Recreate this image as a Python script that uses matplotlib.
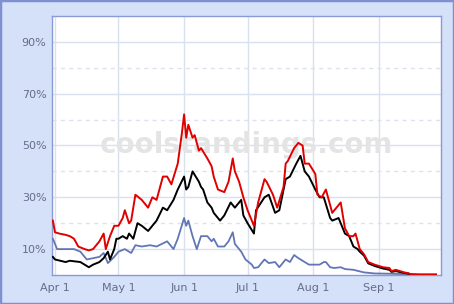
import numpy as np
import matplotlib.pyplot as plt
import matplotlib.dates as mdates
from matplotlib.ticker import FixedLocator, FuncFormatter
from matplotlib.patches import Rectangle

start = np.datetime64('2008-04-01')

# day offsets from Apr 1, values in percent
red_days = [-1, 0, 2, 5, 7, 9, 11, 14, 16, 18, 21, 23, 24, 26, 28, 30, 32, 33, 35, 36,
            38, 41, 44, 46, 48, 51, 53, 55, 58, 60, 61, 62, 63, 65, 66, 68, 69, 72, 74, 75,
            77, 80, 82, 84, 85, 87, 89, 91, 93, 94, 96, 99, 100, 103, 105, 108, 109, 110, 113, 115,
            117, 118, 120, 123, 124, 126, 128, 129, 131, 135, 137, 139, 141, 142, 144, 146, 148, 151, 155, 158,
            159, 161, 165, 167, 168, 172, 180]
red_vals = [21, 16.5, 16, 15.5, 15, 14, 11, 10, 9.5, 10, 13, 16, 10, 15, 19, 19, 22, 25, 20, 21,
            31, 29, 26, 30, 29, 38, 38, 35, 43, 55, 62, 53, 58, 53, 54, 48, 49, 45, 42, 38,
            33, 32, 36, 45, 40, 36, 30, 25, 21, 19, 28, 37, 36, 31, 26, 34, 43, 44, 49, 51,
            50, 43, 43, 39, 31, 30, 33, 30, 24, 28, 18, 15, 15, 16, 10, 8, 5, 4, 3, 2.7,
            1.5, 2, 1, 0.7, 0.3, 0.2, 0.2]

black_days = [-1, 0, 5, 7, 12, 14, 16, 18, 21, 23, 25, 26, 28, 29, 30, 32, 34, 35, 37, 39,
              41, 44, 46, 48, 51, 53, 56, 58, 61, 62, 63, 65, 68, 69, 70, 72, 74, 75, 78, 80,
              83, 85, 88, 89, 91, 94, 95, 99, 101, 104, 106, 109, 111, 114, 116, 118, 120, 123, 125, 127,
              130, 131, 134, 137, 139, 141, 143, 144, 146, 148, 151, 155, 158, 159, 161, 165, 167, 168, 172, 180]
black_vals = [7, 6, 5, 5.5, 5, 4, 3, 4, 5, 6.5, 9, 6, 10, 14, 14, 15, 14, 16, 14, 20,
              19, 17, 19, 21, 26, 25, 29, 33, 38, 33, 34, 40, 36, 34, 33, 28, 26, 24, 21, 23,
              28, 26, 29, 23, 20, 16, 25, 30, 31, 24, 25, 37, 38, 43, 46, 40, 38, 33, 30, 30,
              22, 21, 22, 16, 15, 11, 10, 9, 7.5, 4.5, 3.5, 2.5, 2, 1.2, 1.5, 0.8, 0.5, 0.2, 0.1, 0.1]

blue_days = [-1, 1, 5, 9, 12, 13, 15, 18, 21, 23, 25, 28, 30, 33, 36, 38, 41, 45, 48, 53,
             56, 58, 61, 62, 63, 65, 67, 69, 72, 74, 75, 77, 80, 82, 84, 85, 88, 90, 93, 94,
             96, 99, 101, 104, 106, 109, 111, 113, 115, 118, 120, 123, 125, 127, 128, 130, 132, 135, 137, 141,
             146, 151, 158, 167]
blue_vals = [14, 10, 10, 10, 9, 8, 6, 6.5, 7, 8.5, 4.6, 7, 9, 10, 8.5, 11.5, 11, 11.5, 11, 13,
             10, 14, 22, 19, 21, 15, 10, 15, 15, 13, 14, 11, 11, 13, 16.5, 12, 9, 6, 4, 2.7,
             3, 6, 4.6, 5, 3, 6, 5, 7.7, 6.5, 5, 4, 4, 4, 5, 5, 3, 2.7, 3, 2.3, 2,
             1, 0.6, 0.5, 0.3]

ytick_vals = [10, 30, 50, 70, 90]
ytick_minor = [20, 40, 60, 80]


def to_dates(days):
    return start + np.array(days).astype('timedelta64[D]')


fig = plt.figure(figsize=(4.54, 3.04), dpi=100, facecolor='#d5e0f9')
fig.patches.append(Rectangle((0, 0), 1, 1, transform=fig.transFigure, fill=False,
                             edgecolor='#7f90d2', lw=2.5, zorder=10))
ax = fig.add_axes([0.1145, 0.0954, 0.857, 0.852])
ax.set_facecolor('white')

ax.text(0.5, 0.5, 'coolstandings.com', transform=ax.transAxes, ha='center', va='center',
        fontsize=20, fontweight='bold', color='#e4e4e4', zorder=1)

ax.plot(to_dates(blue_days), blue_vals, color='#6276b6', lw=1.3, zorder=3)
ax.plot(to_dates(black_days), black_vals, color='black', lw=1.4, zorder=4)
ax.plot(to_dates(red_days), red_vals, color='#e00000', lw=1.4, zorder=5)

ax.set_ylim(0, 100)
ax.set_xlim(start - np.timedelta64(1, 'D') - np.timedelta64(10, 'h'),
            start + np.timedelta64(182, 'D') + np.timedelta64(10, 'h'))

ax.yaxis.set_major_locator(FixedLocator(ytick_vals))
ax.yaxis.set_minor_locator(FixedLocator(ytick_minor))
ax.yaxis.set_major_formatter(FuncFormatter(lambda v, p: f'{int(v)}%'))
ax.xaxis.set_major_locator(mdates.MonthLocator(bymonthday=1))
ax.xaxis.set_major_formatter(FuncFormatter(
    lambda v, p: f'{mdates.num2date(v):%b} {mdates.num2date(v).day}'))

ax.grid(True, which='major', color='#d9e0ee', lw=1, zorder=0)
ax.grid(True, which='minor', axis='y', color='#dce2ee', lw=1, ls=(0, (3, 3)), zorder=0)
ax.set_axisbelow(True)

ax.tick_params(which='both', length=0, labelsize=8, labelcolor='#656c8c')
ax.tick_params(axis='y', pad=4)
ax.tick_params(axis='x', pad=6)
for s in ax.spines.values():
    s.set_color('#8a9ad4')
    s.set_linewidth(1)

fig.savefig('out.png', dpi=100, facecolor=fig.get_facecolor())
